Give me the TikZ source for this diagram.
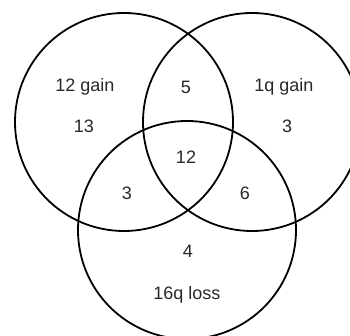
\documentclass[tikz,border=0pt]{standalone}
\usepackage{fontspec}
\setmainfont{Liberation Sans}
\usepackage{tikz}
\definecolor{VennText}{RGB}{40,40,40}

\begin{document}
\begin{tikzpicture}[
  x=1pt,y=-1pt,
  venn/.style={circle,draw=black,line width=1.8pt,minimum size=218pt,inner sep=0pt},
  count/.style={text=VennText,inner sep=0pt,font=\fontsize{18}{20}\selectfont}
]
\path[use as bounding box,clip] (0,0) rectangle (350,336);
\node[venn] (gainA) at (124,122) {};
\node[venn] (gainB) at (252,122) {};
\node[venn] (lossC) at (187,230) {};
\node[count] (nameA) at (85,87) {12 gain};
\node[count] (onlyA) at (84,126) {13};
\node[count] (nameB) at (284,87) {1q gain};
\node[count] (onlyB) at (287,126) {3};
\node[count] (ab) at (186,87) {5};
\node[count] (abc) at (186,157) {12};
\node[count] (ac) at (127,193) {3};
\node[count] (bc) at (245,193) {6};
\node[count] (onlyC) at (188,251) {4};
\node[count] (nameC) at (187,295) {16q loss};
\end{tikzpicture}
\end{document}
